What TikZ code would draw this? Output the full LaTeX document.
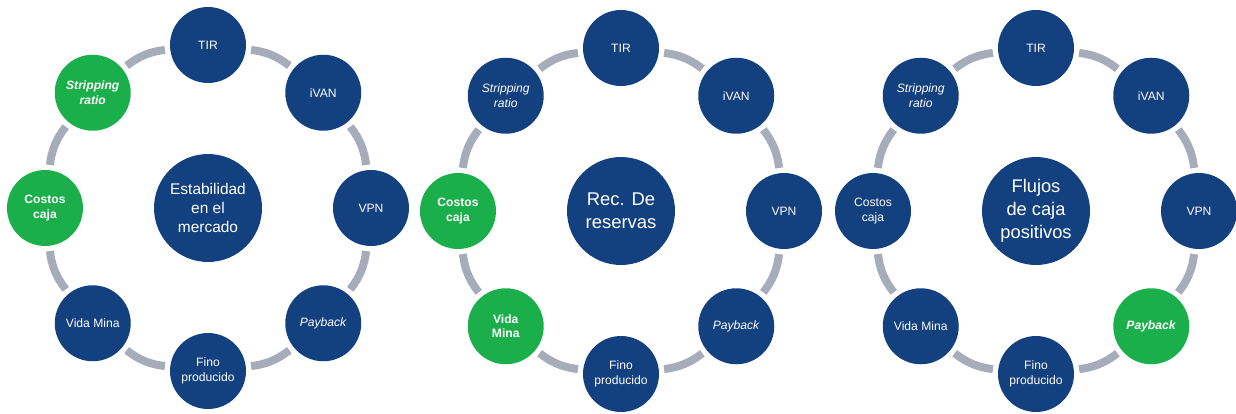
\documentclass[tikz,border=0pt]{standalone}
\usepackage{fontspec}
\setmainfont{Liberation Sans}
\usepackage{xcolor}
\usetikzlibrary{positioning,calc}

\definecolor{navy}{HTML}{13407E}
\definecolor{leaf}{HTML}{1BAF4B}
\definecolor{ringgray}{HTML}{A7ACBB}

\tikzset{
  sat/.style={circle, fill=navy, text=white, minimum size=1.52cm, inner sep=0pt,
    align=center, font=\fontsize{6.9}{8.2}\selectfont},
  hit/.style={fill=leaf, font=\fontsize{6.9}{8.2}\selectfont\bfseries},
  hub/.style={circle, fill=navy, text=white, minimum size=2.16cm, inner sep=0pt, align=center},
  link/.style={draw=ringgray, line width=0.16cm, shorten <=0.1cm, shorten >=0.1cm}
}

\begin{document}
\begin{tikzpicture}[x=0.02cm, y=0.02cm]
    \useasboundingbox (0,0) rectangle (1236,413);

    % Estabilidad en el mercado
    \begin{scope}[shift={(208,205)}]
    \node[hub, font=\fontsize{8.8}{10.9}\selectfont] (e0) at (0,0) {Estabilidad\\en el\\mercado};
    \node[sat] (e1) at (90:163) {TIR};
    \node[sat] (e2) at (45:163) {iVAN};
    \node[sat] (e3) at (0:163) {VPN};
    \node[sat] (e4) at (-45:163) {\textit{Payback}};
    \node[sat] (e5) at (-90:163) {Fino\\producido};
    \node[sat] (e6) at (-135:163) {Vida Mina};
    \node[sat, hit] (e7) at (180:163) {Costos\\caja};
    \node[sat, hit] (e8) at (135:163) {\textit{Stripping}\\\textit{ratio}};
    \foreach \i [evaluate=\i as \j using {int(mod(\i,8)+1)}] in {1,...,8}
        \draw[link] (e\i) to[bend left=16] (e\j);
    \end{scope}

    % Rec. De reservas
    \begin{scope}[shift={(621,202)}]
    \node[hub, font=\fontsize{10.5}{13}\selectfont] (r0) at (0,0) {Rec. De\\reservas};
    \node[sat] (r1) at (90:163) {TIR};
    \node[sat] (r2) at (45:163) {iVAN};
    \node[sat] (r3) at (0:163) {VPN};
    \node[sat] (r4) at (-45:163) {\textit{Payback}};
    \node[sat] (r5) at (-90:163) {Fino\\producido};
    \node[sat, hit] (r6) at (-135:163) {Vida\\Mina};
    \node[sat, hit] (r7) at (180:163) {Costos\\caja};
    \node[sat] (r8) at (135:163) {\textit{Stripping}\\\textit{ratio}};
    \foreach \i [evaluate=\i as \j using {int(mod(\i,8)+1)}] in {1,...,8}
        \draw[link] (r\i) to[bend left=16] (r\j);
    \end{scope}

    % Flujos de caja positivos
    \begin{scope}[shift={(1036,202)}]
    \node[hub, font=\fontsize{10.4}{13}\selectfont] (f0) at (0,0) {Flujos\\de caja\\positivos};
    \node[sat] (f1) at (90:163) {TIR};
    \node[sat] (f2) at (45:163) {iVAN};
    \node[sat] (f3) at (0:163) {VPN};
    \node[sat, hit] (f4) at (-45:163) {\textit{Payback}};
    \node[sat] (f5) at (-90:163) {Fino\\producido};
    \node[sat] (f6) at (-135:163) {Vida Mina};
    \node[sat] (f7) at (180:163) {Costos\\caja};
    \node[sat] (f8) at (135:163) {\textit{Stripping}\\\textit{ratio}};
    \foreach \i [evaluate=\i as \j using {int(mod(\i,8)+1)}] in {1,...,8}
        \draw[link] (f\i) to[bend left=16] (f\j);
    \end{scope}
\end{tikzpicture}
\end{document}
